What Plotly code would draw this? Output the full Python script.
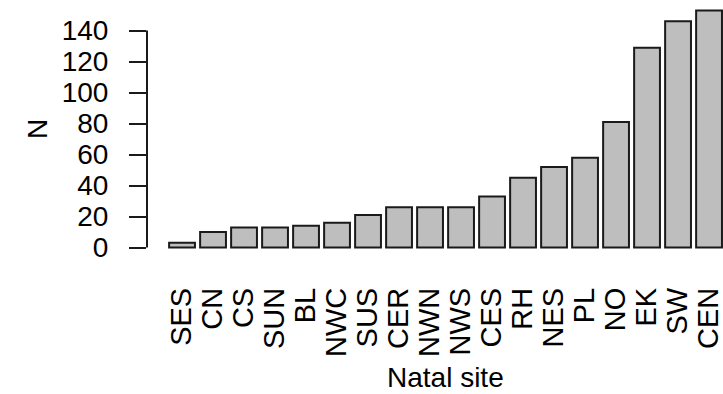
import plotly.graph_objects as go

# Number of individuals per natal site
sites = ["SES", "CN", "CS", "SUN", "BL", "NWC", "SUS", "CER", "NWN", "NWS",
         "CES", "RH", "NES", "PL", "NO", "EK", "SW", "CEN"]
counts = [3, 10, 13, 13, 14, 16, 21, 26, 26, 26, 33, 45, 52, 58, 81, 129, 146, 153]
y_ticks = [0, 20, 40, 60, 80, 100, 120, 140]

W, H = 723, 394
FONT = "Liberation Sans, Arial, sans-serif"
INK = "#1a1a1a"

fig = go.Figure(
    go.Bar(
        x=sites,
        y=counts,
        marker=dict(color="#bebebe", line=dict(color=INK, width=2)),
        hoverinfo="x+y",
    )
)

# y axis line only spans the labelled ticks
fig.add_shape(
    type="line", xref="paper", yref="y",
    x0=0, x1=0, y0=min(y_ticks), y1=max(y_ticks),
    line=dict(color=INK, width=2),
)

fig.add_annotation(
    text="N", xref="paper", yref="paper", x=-0.191, y=0.5,
    showarrow=False, textangle=-90, xanchor="center", yanchor="middle",
    font=dict(family=FONT, size=28, color="black"),
)
fig.add_annotation(
    text="Natal site", xref="paper", yref="paper", x=0.518, y=-0.469,
    showarrow=False, xanchor="center", yanchor="middle",
    font=dict(family=FONT, size=28, color="black"),
)

fig.update_layout(
    width=W, height=H,
    margin=dict(l=147, r=0, t=1, b=137, autoexpand=False),
    paper_bgcolor="white", plot_bgcolor="white",
    bargap=0.1667,
    showlegend=False,
    font=dict(family=FONT, color="black"),
)
fig.update_xaxes(
    type="category",
    range=[-1.13, 17.45],
    tickmode="array", tickvals=sites, ticktext=sites,
    showgrid=False, zeroline=False, showline=False,
    ticks="", tickangle=-90,
    tickfont=dict(family=FONT, size=29, color="black"),
    ticklabelstandoff=24,
    automargin=False,
)
fig.update_yaxes(
    range=[-6.12, 159.12],
    tickvals=y_ticks,
    showgrid=False, zeroline=False, showline=False,
    ticks="outside", ticklen=17, tickwidth=2, tickcolor=INK,
    tickfont=dict(family=FONT, size=28, color="black"),
    ticklabelstandoff=15,
    automargin=False,
)

fig.write_html("out.html", config={"displayModeBar": False})
